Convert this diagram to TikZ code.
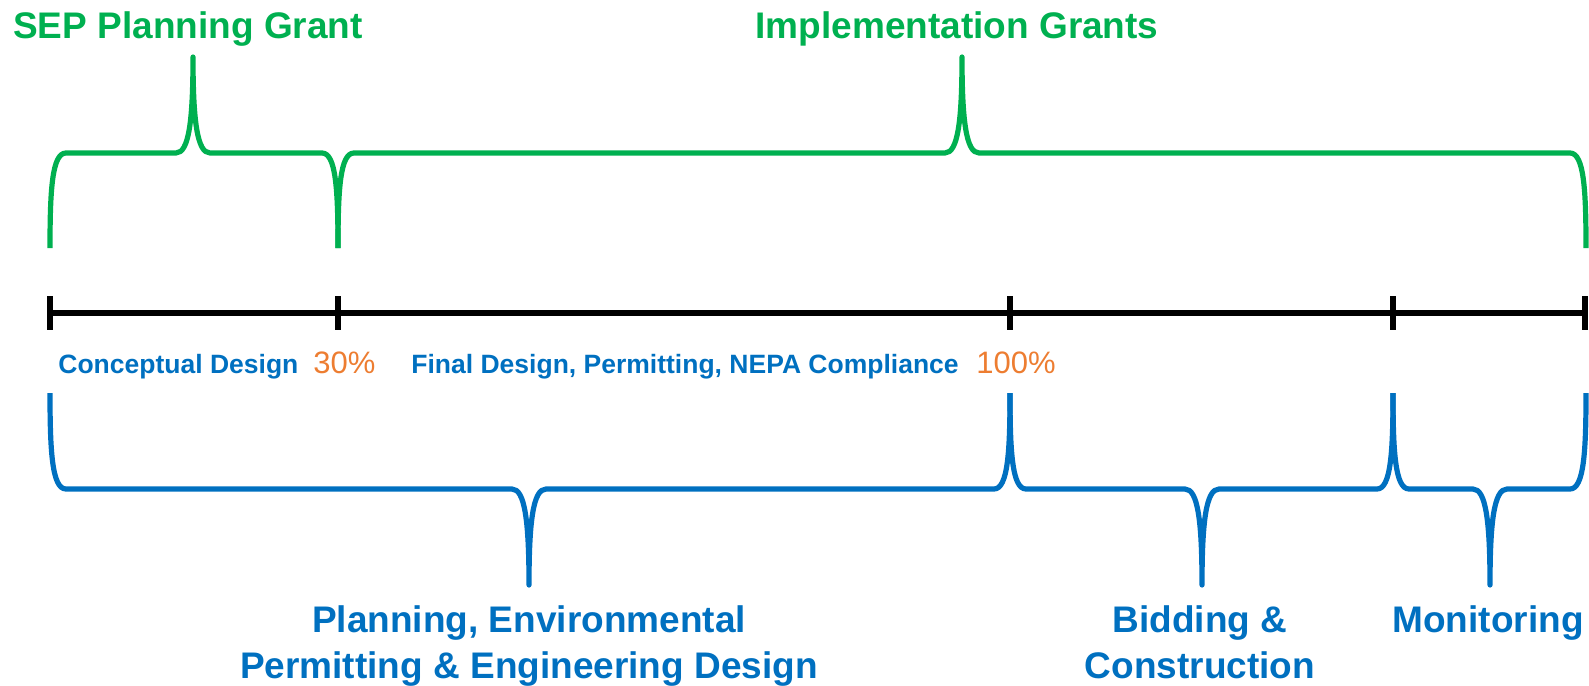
\documentclass[tikz,border=0pt]{standalone}
\usepackage{fontspec}
\setmainfont{Liberation Sans}
\definecolor{grantgreen}{HTML}{00B050}
\definecolor{phaseblue}{HTML}{0070C0}
\definecolor{pctorange}{HTML}{ED7D31}
\tikzset{
    grantbrace/.style={draw=grantgreen, line width=2.6pt, line join=round},
    phasebrace/.style={draw=phaseblue, line width=2.6pt, line join=round},
    timeline/.style={draw=black, line width=3pt},
    bigtext/.style={font=\bfseries\fontsize{18.5}{23}\selectfont, inner sep=0pt, align=center},
    smalltext/.style={font=\bfseries\fontsize{13.25}{16}\selectfont, text=phaseblue, inner sep=0pt, anchor=base west},
    pcttext/.style={font=\fontsize{15.5}{18}\selectfont, text=pctorange, inner sep=0pt, anchor=base west}
}

\begin{document}
\begin{tikzpicture}[x=0.5pt, y=-0.5pt]
                \useasboundingbox (0,0) rectangle (1589,685);
                % grant braces above the line
                \foreach \a/\b/\m in {50/338/193, 338/1586/962}{
                    \draw[grantbrace] (\a,248) .. controls (\a,190) and (\a+2,153) .. (\a+16,153)
                        -- (\m-17,153) .. controls (\m-4,153) and (\m,120) .. (\m,57)
                        .. controls (\m,120) and (\m+4,153) .. (\m+17,153)
                        -- (\b-16,153) .. controls (\b-2,153) and (\b,190) .. (\b,248);
                }
                % phase braces below the line
                \foreach \a/\b/\m in {50/1010/529, 1010/1393/1202, 1393/1586/1490}{
                    \draw[phasebrace] (\a,393) .. controls (\a,451) and (\a+2,489) .. (\a+16,489)
                        -- (\m-17,489) .. controls (\m-4,489) and (\m,522) .. (\m,585)
                        .. controls (\m,522) and (\m+4,489) .. (\m+17,489)
                        -- (\b-16,489) .. controls (\b-2,489) and (\b,451) .. (\b,393);
                }
                % time line
                \draw[timeline] (50,313) -- (1586,313);
                \foreach \x in {50,338,1010,1393,1585}{
                    \draw[timeline] (\x,296) -- (\x,330);
                }
                % labels
                \node[bigtext, text=grantgreen, anchor=base] (sep) at (188,39) {SEP Planning Grant};
                \node[bigtext, text=grantgreen, anchor=base] (impl) at (957,39) {Implementation Grants};
                \node[smalltext] (concept) at (58,373) {Conceptual Design};
                \node[pcttext] (thirty) at (313,373) {30\%};
                \node[smalltext] (final) at (411,373) {Final Design, Permitting, NEPA Compliance};
                \node[pcttext] (hundred) at (976,373) {100\%};
                \node[bigtext, text=phaseblue, anchor=north] (plan) at (529,605) {Planning, Environmental\\Permitting \& Engineering Design};
                \node[bigtext, text=phaseblue, anchor=north] (build) at (1200,605) {Bidding \&\\Construction};
                \node[bigtext, text=phaseblue, anchor=base] (monitor) at (1488,632) {Monitoring};
            \end{tikzpicture}
\end{document}
